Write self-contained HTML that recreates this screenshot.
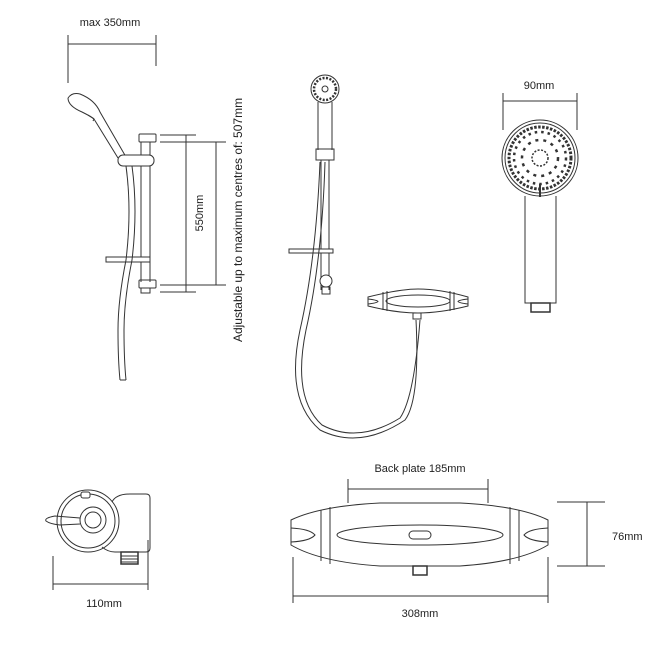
<!DOCTYPE html>
<html><head><meta charset="utf-8"><style>
html,body{margin:0;padding:0;background:#fff;}
svg{display:block}
text{font-family:"Liberation Sans","DejaVu Sans",sans-serif;font-size:11px;fill:#222}
</style></head><body>
<svg width="650" height="650" viewBox="0 0 650 650" xmlns="http://www.w3.org/2000/svg">
<g fill="none" stroke="#333" stroke-width="1">
<line x1="68" y1="44" x2="156" y2="44"/>
<line x1="68" y1="35" x2="68" y2="83"/>
<line x1="156" y1="35" x2="156" y2="66"/>
<path d="M68,98 Q72,92 80,94 Q95,100 100,112 L126,157 M68,98 Q68,106 82,112 Q92,117 94,119 L118,158"/>
<path d="M88,115 L94,119 L93,121"/>
<rect x="118" y="155" width="36" height="11" rx="5" fill="#fff"/>
<line x1="141" y1="166" x2="141" y2="282"/>
<line x1="150" y1="166" x2="150" y2="282"/>
<rect x="139" y="134" width="17" height="8" rx="1"/>
<rect x="141" y="142" width="9" height="13"/>
<rect x="139" y="280" width="17" height="8" rx="1"/>
<rect x="141" y="288" width="9" height="5"/>
<rect x="106" y="257" width="44" height="5" fill="#fff"/>
<path d="M126,166 Q132,210 126,260 Q118,300 118,330 Q118,360 120,380 M132,166 Q138,210 132,260 Q124,300 124,330 Q124,360 126,380 M120,380 L126,380"/>
<line x1="160" y1="135" x2="196" y2="135"/>
<line x1="160" y1="292" x2="196" y2="292"/>
<line x1="186" y1="135" x2="186" y2="292"/>
<line x1="160" y1="142" x2="226" y2="142"/>
<line x1="160" y1="285" x2="226" y2="285"/>
<line x1="216" y1="142" x2="216" y2="285"/>

<circle cx="325" cy="89" r="14"/>
<circle cx="325" cy="89" r="11" stroke-width="2.5" stroke-dasharray="2 1.5"/>
<circle cx="325" cy="89" r="3"/>
<path d="M318,102 L318,150 M332,102 L332,150"/>
<rect x="316" y="149" width="18" height="11"/>
<line x1="321" y1="160" x2="321" y2="290"/>
<line x1="329" y1="160" x2="329" y2="290"/>
<rect x="289" y="249" width="44" height="4" fill="#fff"/>
<circle cx="326" cy="281" r="6" fill="#fff"/>
<rect x="322" y="287" width="8" height="7"/>
<path d="M320,162 Q316,260 300,330 Q285,400 320,430 Q360,450 405,420 Q420,400 416,320"/>
<path d="M325,162 Q322,260 306,330 Q292,398 322,425 Q358,444 400,418 Q414,398 420,320"/>
<path d="M368,297 Q400,289 418,289 Q440,289 468,297 L468,306 Q440,313 418,313 Q396,313 368,306 Z"/>
<ellipse cx="418" cy="301" rx="32" ry="6"/>
<path d="M383,292 L383,310 M387,291 L387,311 M450,291 L450,311 M454,292 L454,310"/>
<path d="M368,299 Q377,300 378,301.5 Q377,303 368,304 M468,299 Q459,300 458,301.5 Q459,303 468,304"/>
<rect x="413" y="313" width="8" height="6"/>

<line x1="503" y1="101" x2="577" y2="101"/>
<line x1="503" y1="93" x2="503" y2="130"/>
<line x1="577" y1="93" x2="577" y2="130"/>
<circle cx="540" cy="158" r="38"/>
<circle cx="540" cy="158" r="35"/>
<path d="M525,196 L525,303 L556,303 L556,196"/>
<rect x="531" y="303" width="19" height="9" stroke-width="1.5"/>
<path d="M540,184 L540,197" stroke-width="2"/>
<circle cx="540" cy="158" r="8" stroke-dasharray="2 1.5" stroke-width="1.5"/>
<circle cx="540" cy="158" r="31" stroke-width="3" stroke-dasharray="2.5 1.5"/>
<circle cx="540" cy="158" r="26" stroke-width="2.5" stroke-dasharray="2.5 4"/>
<circle cx="540" cy="158" r="18" stroke-width="2.5" stroke-dasharray="3 5"/>

<circle cx="88" cy="521" r="31"/>
<circle cx="88" cy="521" r="27"/>
<path d="M112,502 Q116,494 130,494 L146,494 Q150,494 150,498 L150,548 Q150,552 146,552 L115,552 Q108,552 102,547"/>
<rect x="81" y="492" width="9" height="6" rx="2" fill="#fff"/>
<circle cx="93" cy="520" r="13"/>
<circle cx="93" cy="520" r="8"/>
<path d="M80,518 L55,516 Q44,518 46,521 Q50,524 60,525 L80,524"/>
<rect x="121" y="552" width="17" height="12" stroke-width="1.5"/>
<path d="M121,556 L138,556 M121,559 L138,559 M121,562 L138,562"/>
<line x1="53" y1="556" x2="53" y2="590"/>
<line x1="148" y1="540" x2="148" y2="590"/>
<line x1="53" y1="584" x2="148" y2="584"/>

<line x1="348" y1="489" x2="488" y2="489"/>
<line x1="348" y1="479" x2="348" y2="503"/>
<line x1="488" y1="479" x2="488" y2="503"/>
<path d="M291,520 Q320,506 380,503 L460,503 Q520,506 548,520 L548,545 Q520,562 460,566 L380,566 Q320,562 291,545 Z"/>
<path d="M321,510 L321,561 M330,507 L330,564 M510,507 L510,564 M519,510 L519,561"/>
<path d="M291,528 Q310,529 315,535 Q310,541 291,542 M548,528 Q529,529 524,535 Q529,541 548,542"/>
<ellipse cx="420" cy="535" rx="83" ry="10"/>
<rect x="409" y="531" width="22" height="8" rx="4"/>
<rect x="413" y="566" width="14" height="9" stroke-width="1.5"/>
<line x1="557" y1="502" x2="605" y2="502"/>
<line x1="557" y1="566" x2="605" y2="566"/>
<line x1="587" y1="502" x2="587" y2="566"/>
<line x1="293" y1="557" x2="293" y2="603"/>
<line x1="548" y1="557" x2="548" y2="603"/>
<line x1="293" y1="596" x2="548" y2="596"/>
</g>
<text x="110" y="26" text-anchor="middle">max 350mm</text>
<text transform="translate(203,213) rotate(-90)" text-anchor="middle">550mm</text>
<text transform="translate(242,220) rotate(-90)" text-anchor="middle" style="font-size:12px">Adjustable up to maximum centres of: 507mm</text>
<text x="539" y="89" text-anchor="middle">90mm</text>
<text x="104" y="607" text-anchor="middle">110mm</text>
<text x="420" y="472" text-anchor="middle">Back plate 185mm</text>
<text x="612" y="540">76mm</text>
<text x="420" y="617" text-anchor="middle">308mm</text>
</svg>
</body></html>
